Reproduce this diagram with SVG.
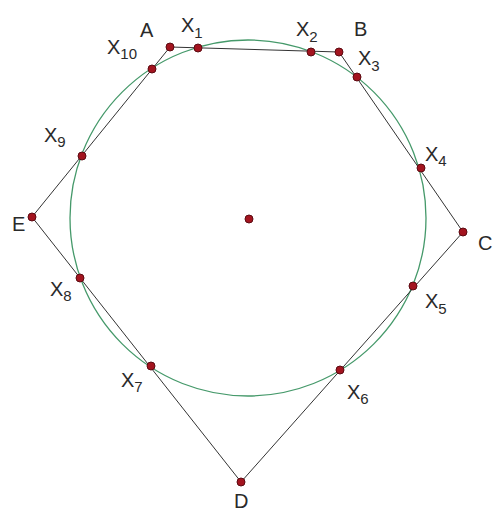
<svg xmlns="http://www.w3.org/2000/svg" width="498" height="514" viewBox="0 0 498 514">
<style>
.lbl{font-family:"Liberation Sans",Arial,sans-serif;font-size:20px;fill:#2a2a2a}
.sub{font-size:15px}
.edge{stroke:#333;stroke-width:1;fill:none}
.circ{stroke:#45996a;stroke-width:1.3;fill:none}
.pt{fill:#a3141f;stroke:#5c0b12;stroke-width:1}
</style>
<rect width="498" height="514" fill="#fff"/>
<g id="circle"><circle class="circ" cx="248" cy="218" r="178"/></g>
<g id="connectors">
<line class="edge" x1="170" y1="47" x2="339" y2="52"/>
<line class="edge" x1="339" y1="52" x2="463" y2="232"/>
<line class="edge" x1="463" y1="232" x2="241" y2="482"/>
<line class="edge" x1="241" y1="482" x2="32" y2="217"/>
<line class="edge" x1="32" y1="217" x2="170" y2="47"/>
</g>
<g id="O"><circle class="pt" cx="249" cy="219" r="4"/></g>
<g id="A"><circle class="pt" cx="170" cy="47" r="4"/><text class="lbl" x="140" y="37">A</text></g>
<g id="B"><circle class="pt" cx="339" cy="52" r="4"/><text class="lbl" x="354" y="36">B</text></g>
<g id="C"><circle class="pt" cx="463" cy="232" r="4"/><text class="lbl" x="478" y="250">C</text></g>
<g id="D"><circle class="pt" cx="241" cy="482" r="4"/><text class="lbl" x="234" y="508">D</text></g>
<g id="E"><circle class="pt" cx="32" cy="217" r="4"/><text class="lbl" x="12" y="231">E</text></g>
<g id="X1"><circle class="pt" cx="198" cy="48" r="4"/><text class="lbl" x="181" y="32">X<tspan class="sub" dy="6">1</tspan></text></g>
<g id="X2"><circle class="pt" cx="311" cy="52" r="4"/><text class="lbl" x="296" y="36">X<tspan class="sub" dy="6">2</tspan></text></g>
<g id="X3"><circle class="pt" cx="357" cy="77" r="4"/><text class="lbl" x="358" y="65">X<tspan class="sub" dy="6">3</tspan></text></g>
<g id="X4"><circle class="pt" cx="421" cy="168" r="4"/><text class="lbl" x="425" y="161">X<tspan class="sub" dy="5">4</tspan></text></g>
<g id="X5"><circle class="pt" cx="413" cy="286" r="4"/><text class="lbl" x="425" y="308">X<tspan class="sub" dy="6">5</tspan></text></g>
<g id="X6"><circle class="pt" cx="340" cy="370" r="4"/><text class="lbl" x="347" y="399">X<tspan class="sub" dy="5">6</tspan></text></g>
<g id="X7"><circle class="pt" cx="151" cy="366" r="4"/><text class="lbl" x="121" y="387">X<tspan class="sub" dy="5">7</tspan></text></g>
<g id="X8"><circle class="pt" cx="80" cy="278" r="4"/><text class="lbl" x="50" y="296">X<tspan class="sub" dy="5">8</tspan></text></g>
<g id="X9"><circle class="pt" cx="82" cy="156" r="4"/><text class="lbl" x="44" y="142">X<tspan class="sub" dy="5">9</tspan></text></g>
<g id="X10"><circle class="pt" cx="152" cy="69" r="4"/><text class="lbl" x="107" y="54">X<tspan class="sub" dy="5">10</tspan></text></g>
</svg>
